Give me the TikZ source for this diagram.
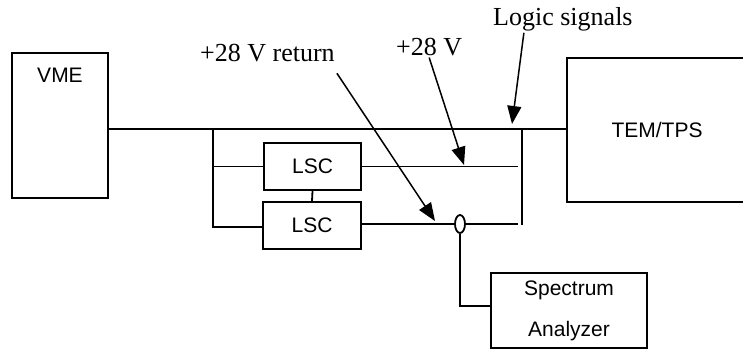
\documentclass[tikz,border=0pt]{standalone}
\usepackage{fontspec}
\setmainfont{Liberation Serif}
\newfontfamily\arialfont{Liberation Sans}
\usetikzlibrary{shapes, arrows.meta, positioning}

\begin{document}
\begin{tikzpicture}[x=1pt, y=-1pt,
      blk/.style={rectangle, draw, line width=1.8pt, inner sep=0pt, font=\arialfont\fontsize{21}{25}\selectfont},
      lbl/.style={anchor=base west, inner sep=2pt, font=\fontsize{26}{30}\selectfont},
      ln/.style={line width=1.8pt},
      arr/.style={line width=1.5pt, -{Triangle[length=18pt, width=14pt]}},
    ]
      \clip (0,0) rectangle (743,349);
      \node[blk, minimum width=96pt, minimum height=145pt] (vme) at (60,125.5) {};
      \node[blk, draw=none, below=15pt] (vmet) at (vme.north) {VME};
      \node[blk, minimum width=180pt, minimum height=144pt] (tem) at (657,130) {TEM/TPS};
      \node[blk, minimum width=97pt, minimum height=47pt] (lsc1) at (312.5,166.5) {LSC};
      \node[blk, minimum width=98pt, minimum height=47pt] (lsc2) at (312,225.5) {LSC};
      \node[blk, minimum width=156pt, minimum height=75pt, align=center,
            font=\arialfont\fontsize{21}{41}\selectfont] (spec) at (569,310.5) {Spectrum\\Analyzer};
      \node[ellipse, draw, line width=1.8pt, fill=white, inner sep=0pt,
            minimum width=10pt, minimum height=18pt] (tap) at (460,224) {};
      \coordinate (j1) at (213,129);
      \coordinate (j2) at (522,129);
      \coordinate (j3) at (213,227);
      \coordinate (j4) at (522,225);
      \coordinate (e1) at (518,167);
      \coordinate (e2) at (518,224);
      \coordinate (k) at (461,306);
      \draw[ln] (vme.east |- j1) -- (tem.west |- j1);
      \draw[ln] (j1) -- (j3) -- (lsc2.west |- j3);
      \draw[ln] (j1 |- lsc1.west) -- (lsc1.west);
      \draw[ln] (lsc1.east) -- (e1 |- lsc1.east);
      \draw[ln] (lsc1.south) -- (lsc2.north);
      \draw[ln] (lsc2.east |- tap) -- (tap.west);
      \draw[ln] (tap.east) -- (e2);
      \draw[ln] (j2) -- (j4);
      \draw[ln] (tap.south) -- (tap.south |- k) -- (spec.west |- k);
      \node[lbl] (ret) at (198,61.7) {+28 V return};
      \node[lbl] (v28) at (394,55) {+28 V};
      \node[lbl] (logic) at (491,25) {Logic signals};
      \coordinate (rtip) at (435,221);
      \coordinate (vtip) at (464,165);
      \coordinate (ltip) at (512,124);
      \draw[arr] ([yshift=-9pt]ret.south east) -- (rtip);
      \draw[arr] (v28.south) -- (vtip);
      \draw[arr] ([xshift=-39pt]logic.south) -- (ltip);
    \end{tikzpicture}
\end{document}
